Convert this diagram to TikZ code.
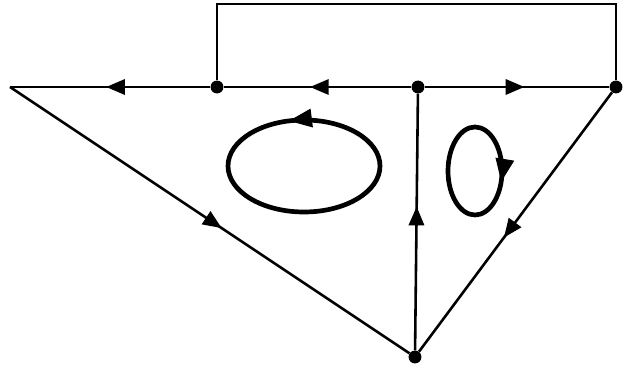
\documentclass[tikz,border=0pt]{standalone}
\usetikzlibrary{arrows.meta,decorations.markings}
\tikzset{
edge/.style={
  line width=2.2pt,
  draw=black
},
frame/.style={
  line width=2pt,
  draw=black
},
dot/.style={
  circle,
  fill=black,
  inner sep=0pt,
  minimum size=11pt
},
midarrow/.style={
  decoration={markings,
    mark=at position #1 with {\arrow{Triangle[length=16pt,width=13pt]}}},
  postaction={decorate}
},
loopline/.style={
  line width=4pt,
  draw=black
},
looparrow/.style={
  decoration={markings,
    mark=at position #1 with {\arrow{Triangle[length=20pt,width=15pt]}}},
  postaction={decorate}
}
}
\begin{document}
\begin{tikzpicture}[x=0.03cm,y=0.03cm]
  \useasboundingbox (0,0) rectangle (626,371);

  % Vertices
  \coordinate (L) at (10,284);
  \node[dot] (A) at (217,284) {};
  \node[dot] (B) at (418,284) {};
  \node[dot] (R) at (616,284) {};
  \node[dot] (D) at (415,14) {};
  \coordinate (TA) at (217,367);
  \coordinate (TR) at (616,367);

  % Top bar
  \draw[edge, midarrow=0.52] (A) -- (L);
  \draw[edge, midarrow=0.54] (B) -- (A);
  \draw[edge, midarrow=0.54] (B) -- (R);

  % Upper frame
  \draw[frame] (A) -- (TA) -- (TR) -- (R);

  % Triangle sides
  \draw[edge, midarrow=0.53] (L) -- (D);
  \draw[edge, midarrow=0.56] (D) -- (B);
  \draw[edge, midarrow=0.56] (R) -- (D);

  % Loop currents
  \draw[loopline, looparrow=0.29] (304,205) ellipse [x radius=76, y radius=46];
  \draw[loopline, looparrow=0.05] (502,200)
    arc [start angle=0, end angle=-360, x radius=27, y radius=44];
\end{tikzpicture}
\end{document}
